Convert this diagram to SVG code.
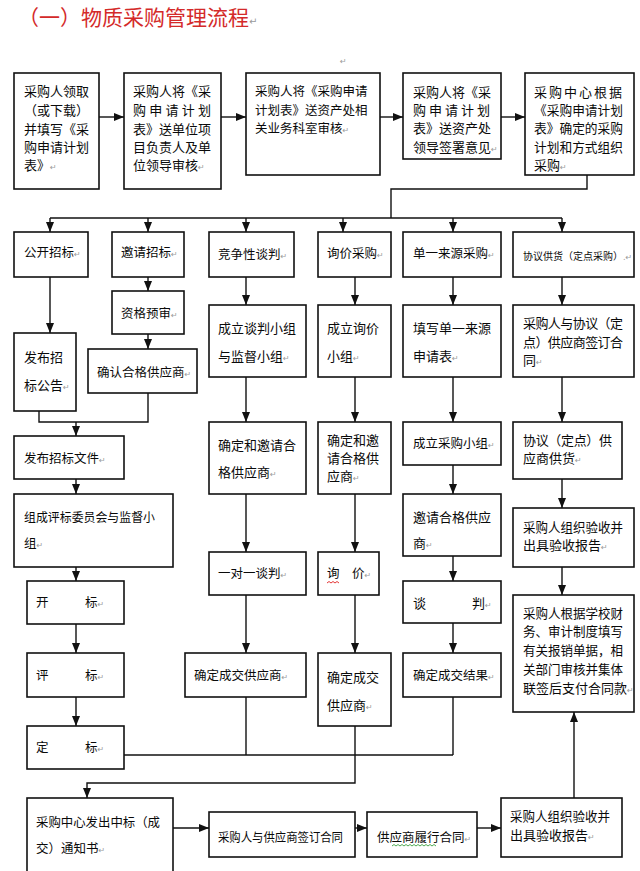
<svg xmlns="http://www.w3.org/2000/svg" width="640" height="871" viewBox="0 0 640 871">
<defs>
<marker id="ah" markerWidth="10" markerHeight="9" refX="10" refY="4.5" orient="auto" markerUnits="userSpaceOnUse">
<path d="M0,0.5 L10,4.5 L0,8.5 z" fill="#111"/>
</marker>
<style>
.b{fill:#fff;stroke:#111;stroke-width:1.6}
.t{font-family:"Noto Sans CJK SC","Noto Sans",sans-serif;font-size:12.5px;fill:#0a0a0a}
.pm{font-family:"DejaVu Sans",sans-serif;font-size:8px;fill:#9a9a9a}
.c{fill:none;stroke:#111;stroke-width:1.4}
.a{marker-end:url(#ah)}
.sm{font-size:10px}
</style>
</defs>
<rect width="640" height="871" fill="#fff"/>
<text x="18" y="25" style="font-family:'Noto Sans CJK SC',sans-serif;font-size:21px;fill:#d42a2a">（一）物质采购管理流程<tspan class="pm" style="font-size:10px">↵</tspan></text>
<text x="340" y="64" class="pm">↵</text>

<g id="connectors">
<path class="c a" d="M99,117 H124"/>
<path class="c a" d="M221,117 H246"/>
<path class="c a" d="M380,117 H403"/>
<path class="c a" d="M501,117 H525"/>
<path class="c" d="M587,175 V189 H391 V218"/>
<path class="c" d="M50,218 H562"/>
<path class="c a" d="M50,218 V232"/>
<path class="c a" d="M148,218 V232"/>
<path class="c a" d="M246,218 V232"/>
<path class="c a" d="M343,218 V232"/>
<path class="c a" d="M453,218 V232"/>
<path class="c a" d="M562,218 V232"/>
<path class="c a" d="M50,277 V333"/>
<path class="c a" d="M148,277 V291"/>
<path class="c a" d="M148,334 V349"/>
<path class="c" d="M148,393 V422 H39 V404"/>
<path class="c a" d="M76,422 V436"/>
<path class="c a" d="M76,479 V494"/>
<path class="c a" d="M76,567 V581"/>
<path class="c a" d="M76,624 V653"/>
<path class="c a" d="M76,697 V726"/>
<path class="c" d="M124,755 H453"/>
<path class="c a" d="M246,277 V305"/>
<path class="c a" d="M246,377 V422"/>
<path class="c a" d="M246,494 V552"/>
<path class="c a" d="M246,595 V653"/>
<path class="c" d="M246,697 V755"/>
<path class="c a" d="M355,277 V305"/>
<path class="c a" d="M355,377 V422"/>
<path class="c a" d="M355,494 V552"/>
<path class="c a" d="M355,595 V653"/>
<path class="c a" d="M355,726 V783 H87 V798"/>
<path class="c a" d="M453,277 V305"/>
<path class="c a" d="M453,377 V422"/>
<path class="c a" d="M453,465 V494"/>
<path class="c a" d="M453,552 V581"/>
<path class="c a" d="M453,623 V653"/>
<path class="c" d="M453,697 V755"/>
<path class="c a" d="M562,277 V305"/>
<path class="c a" d="M562,377 V422"/>
<path class="c a" d="M562,479 V508"/>
<path class="c a" d="M562,567 V595"/>
<path class="c a" d="M173,828 H209"/>
<path class="c a" d="M355,828 H367"/>
<path class="c a" d="M477,828 H501"/>
<path class="c a" d="M574,798 V712"/>
</g>

<g id="n1"><rect class="b" x="14" y="73" width="85" height="116"/>
<text class="t" style="font-size:13px"><tspan x="24" y="96">采购人领取</tspan><tspan x="24" y="115">（或下载）</tspan><tspan x="24" y="134">并填写《采</tspan><tspan x="24" y="152">购申请计划</tspan><tspan x="24" y="170">表》<tspan class="pm">↵</tspan></tspan></text></g>

<g id="n2"><rect class="b" x="124" y="73" width="97" height="116"/>
<text class="t" x="133" y="96" style="font-size:13px">采购人将《采</text>
<text class="t" x="133" y="115" style="font-size:13px" textLength="78" lengthAdjust="spacing">购申请计划</text>
<text class="t" style="font-size:13px"><tspan x="133" y="134">表》送单位项</tspan><tspan x="133" y="152">目负责人及单</tspan><tspan x="133" y="170">位领导审核<tspan class="pm">↵</tspan></tspan></text></g>

<g id="n3"><rect class="b" x="246" y="73" width="134" height="102"/>
<text class="t"><tspan x="255" y="96">采购人将《采购申请</tspan><tspan x="255" y="115">计划表》送资产处相</tspan><tspan x="255" y="133">关业务科室审核<tspan class="pm">↵</tspan></tspan></text></g>

<g id="n4"><rect class="b" x="403" y="73" width="98" height="86"/>
<text class="t" x="413" y="97" style="font-size:13px">采购人将《采</text>
<text class="t" x="413" y="115" style="font-size:13px" textLength="77" lengthAdjust="spacing">购申请计划</text>
<text class="t" style="font-size:13px"><tspan x="413" y="133">表》送资产处</tspan><tspan x="413" y="152">领导签署意见<tspan class="pm">↵</tspan></tspan></text></g>

<g id="n5"><rect class="b" x="525" y="73" width="109" height="102"/>
<text class="t" x="534" y="97" style="font-size:13px" textLength="88" lengthAdjust="spacing">采购中心根据</text>
<text class="t" x="534" y="115" style="font-size:13px" textLength="89" lengthAdjust="spacingAndGlyphs">《采购申请计划</text>
<text class="t" x="534" y="133" style="font-size:13px" textLength="89" lengthAdjust="spacingAndGlyphs">表》确定的采购</text>
<text class="t" x="534" y="152" style="font-size:13px" textLength="89" lengthAdjust="spacingAndGlyphs">计划和方式组织</text>
<text class="t" x="534" y="170" style="font-size:13px">采购<tspan class="pm">↵</tspan></text></g>

<g id="c1"><rect class="b" x="14" y="232" width="74" height="45"/><text class="t" x="24" y="257">公开招标<tspan class="pm">↵</tspan></text></g>
<g id="c2"><rect class="b" x="112" y="232" width="72" height="45"/><text class="t" x="121" y="257">邀请招标<tspan class="pm">↵</tspan></text></g>
<g id="c3"><rect class="b" x="209" y="232" width="85" height="45"/><text class="t" x="218" y="259">竞争性谈判<tspan class="pm">↵</tspan></text></g>
<g id="c4"><rect class="b" x="318" y="232" width="73" height="45"/><text class="t" x="327" y="258">询价采购<tspan class="pm">↵</tspan></text></g>
<g id="c5"><rect class="b" x="403" y="232" width="98" height="45"/><text class="t" x="413" y="258">单一来源采购<tspan class="pm">↵</tspan></text></g>
<g id="c6"><rect class="b" x="513" y="232" width="121" height="45"/><text class="t sm" x="523" y="260">协议供货（定点采购）<tspan class="pm">.↵</tspan></text></g>

<g id="n-gk1"><rect class="b" x="14" y="333" width="62" height="78"/>
<text class="t" style="font-size:13px"><tspan x="24" y="362">发布招</tspan><tspan x="24" y="390">标公告<tspan class="pm">↵</tspan></tspan></text></g>
<g id="n-yq1"><rect class="b" x="112" y="291" width="72" height="43"/><text class="t" x="121" y="318">资格预审<tspan class="pm">↵</tspan></text></g>
<g id="n-yq2"><rect class="b" x="88" y="349" width="109" height="44"/><text class="t" x="97" y="377">确认合格供应商<tspan class="pm">↵</tspan></text></g>
<g id="n-gk2"><rect class="b" x="14" y="436" width="110" height="43"/><text class="t" x="24" y="463">发布招标文件<tspan class="pm">↵</tspan></text></g>
<g id="n-gk3"><rect class="b" x="14" y="494" width="159" height="73"/>
<text class="t" x="24" y="522" textLength="131" lengthAdjust="spacingAndGlyphs">组成评标委员会与监督小</text>
<text class="t" x="24" y="548">组<tspan class="pm">↵</tspan></text></g>
<g id="n-gk4"><rect class="b" x="27" y="581" width="97" height="43"/><text class="t" y="607"><tspan x="36">开</tspan><tspan x="85">标</tspan><tspan class="pm">↵</tspan></text></g>
<g id="n-gk5"><rect class="b" x="27" y="653" width="97" height="44"/><text class="t" y="680"><tspan x="36">评</tspan><tspan x="85">标</tspan><tspan class="pm">↵</tspan></text></g>
<g id="n-gk6"><rect class="b" x="27" y="726" width="97" height="43"/><text class="t" y="752"><tspan x="36">定</tspan><tspan x="85">标</tspan><tspan class="pm">↵</tspan></text></g>

<g id="n-jz1"><rect class="b" x="209" y="305" width="97" height="72"/>
<text class="t" style="font-size:13px"><tspan x="218" y="333">成立谈判小组</tspan><tspan x="218" y="361">与监督小组<tspan class="pm">↵</tspan></tspan></text></g>
<g id="n-jz2"><rect class="b" x="209" y="422" width="97" height="72"/>
<text class="t" style="font-size:13px"><tspan x="218" y="450">确定和邀请合</tspan><tspan x="218" y="477">格供应商<tspan class="pm">↵</tspan></tspan></text></g>
<g id="n-jz3"><rect class="b" x="209" y="552" width="97" height="43"/><text class="t" x="218" y="578">一对一谈判<tspan class="pm">↵</tspan></text></g>
<g id="n-jz4"><rect class="b" x="185" y="653" width="121" height="44"/><text class="t" x="194" y="680">确定成交供应商<tspan class="pm">↵</tspan></text></g>

<g id="n-xj1"><rect class="b" x="318" y="305" width="73" height="72"/>
<text class="t" style="font-size:13px"><tspan x="327" y="333">成立询价</tspan><tspan x="327" y="361">小组<tspan class="pm">↵</tspan></tspan></text></g>
<g id="n-xj2"><rect class="b" x="318" y="422" width="73" height="72"/>
<text class="t" style="font-size:13px"><tspan x="327" y="445">确定和邀</tspan><tspan x="327" y="463">请合格供</tspan><tspan x="327" y="481">应商<tspan class="pm">↵</tspan></tspan></text></g>
<g id="n-xj3"><rect class="b" x="318" y="552" width="61" height="43"/>
<text class="t" y="578"><tspan x="327">询</tspan><tspan x="352">价</tspan><tspan class="pm">↵</tspan></text>
<path d="M327,583 l2,-1.5 l2,1.5 l2,-1.5 l2,1.5 l2,-1.5 l2,1.5" fill="none" stroke="#e02020" stroke-width="0.9"/></g>
<g id="n-xj4"><rect class="b" x="318" y="653" width="73" height="73"/>
<text class="t" style="font-size:13px"><tspan x="327" y="682">确定成交</tspan><tspan x="327" y="710">供应商<tspan class="pm">↵</tspan></tspan></text></g>

<g id="n-dy1"><rect class="b" x="403" y="305" width="98" height="72"/>
<text class="t" style="font-size:13px"><tspan x="413" y="333">填写单一来源</tspan><tspan x="413" y="361">申请表<tspan class="pm">↵</tspan></tspan></text></g>
<g id="n-dy2"><rect class="b" x="403" y="422" width="98" height="43"/><text class="t" x="413" y="448">成立采购小组<tspan class="pm">↵</tspan></text></g>
<g id="n-dy3"><rect class="b" x="403" y="494" width="98" height="62"/>
<text class="t" style="font-size:13px"><tspan x="413" y="522">邀请合格供应</tspan><tspan x="413" y="548">商<tspan class="pm">↵</tspan></tspan></text></g>
<g id="n-dy4"><rect class="b" x="403" y="581" width="98" height="42"/><text class="t" y="608" style="font-size:13px"><tspan x="413">谈</tspan><tspan x="472">判</tspan><tspan class="pm">↵</tspan></text></g>
<g id="n-dy5"><rect class="b" x="403" y="653" width="98" height="44"/><text class="t" x="413" y="680">确定成交结果<tspan class="pm">↵</tspan></text></g>

<g id="n-xy1"><rect class="b" x="513" y="305" width="121" height="72"/>
<text class="t" x="523" y="328" style="font-size:13px" textLength="100" lengthAdjust="spacing">采购人与协议（定</text>
<text class="t" x="523" y="347" style="font-size:13px" textLength="100" lengthAdjust="spacing">点）供应商签订合</text>
<text class="t" x="523" y="365" style="font-size:13px">同<tspan class="pm">↵</tspan></text></g>
<g id="n-xy2"><rect class="b" x="513" y="422" width="109" height="57"/>
<text class="t" x="523" y="445" style="font-size:13px" textLength="89" lengthAdjust="spacing">协议（定点）供</text>
<text class="t" x="523" y="463" style="font-size:13px">应商供货<tspan class="pm">↵</tspan></text></g>
<g id="n-xy3"><rect class="b" x="513" y="508" width="121" height="59"/>
<text class="t" x="523" y="532" style="font-size:13px" textLength="100" lengthAdjust="spacingAndGlyphs">采购人组织验收并</text>
<text class="t" x="523" y="550" style="font-size:13px">出具验收报告<tspan class="pm">↵</tspan></text></g>
<g id="n-xy4"><rect class="b" x="513" y="595" width="121" height="117"/>
<text class="t" x="523" y="618" style="font-size:13px" textLength="100" lengthAdjust="spacingAndGlyphs">采购人根据学校财</text>
<text class="t" x="523" y="636" style="font-size:13px" textLength="100" lengthAdjust="spacingAndGlyphs">务、审计制度填写</text>
<text class="t" x="523" y="655" style="font-size:13px" textLength="100" lengthAdjust="spacingAndGlyphs">有关报销单据，相</text>
<text class="t" x="523" y="674" style="font-size:13px" textLength="100" lengthAdjust="spacingAndGlyphs">关部门审核并集体</text>
<text class="t" x="523" y="693" style="font-size:13px">联签后支付合同款<tspan class="pm">↵</tspan></text></g>

<g id="n-b1"><rect class="b" x="27" y="798" width="146" height="80"/>
<text class="t" x="36" y="827" textLength="124" lengthAdjust="spacingAndGlyphs">采购中心发出中标（成</text>
<text class="t" x="36" y="853">交）通知书<tspan class="pm">↵</tspan></text></g>
<g id="n-b2"><rect class="b" x="209" y="812" width="146" height="45"/>
<text class="t" x="218" y="842" textLength="125" lengthAdjust="spacingAndGlyphs">采购人与供应商签订合同</text></g>
<g id="n-b3"><rect class="b" x="367" y="812" width="110" height="45"/>
<text class="t" x="377" y="842">供应商履行合同<tspan class="pm">↵</tspan></text>
<path d="M392,846 l2,-1.5 l2,1.5 l2,-1.5 l2,1.5 l2,-1.5 l2,1.5 l2,-1.5 l2,1.5 l2,-1.5 l2,1.5 l2,-1.5 l2,1.5 l2,-1.5 l2,1.5 l2,-1.5 l2,1.5 l2,-1.5 l2,1.5 l2,-1.5 l2,1.5 l2,-1.5 l2,1.5" fill="none" stroke="#3aa040" stroke-width="0.9"/></g>
<g id="n-b4"><rect class="b" x="501" y="798" width="121" height="59"/>
<text class="t" x="510" y="821" style="font-size:13px" textLength="100" lengthAdjust="spacingAndGlyphs">采购人组织验收并</text>
<text class="t" x="510" y="840" style="font-size:13px">出具验收报告<tspan class="pm">↵</tspan></text></g>
</svg>
